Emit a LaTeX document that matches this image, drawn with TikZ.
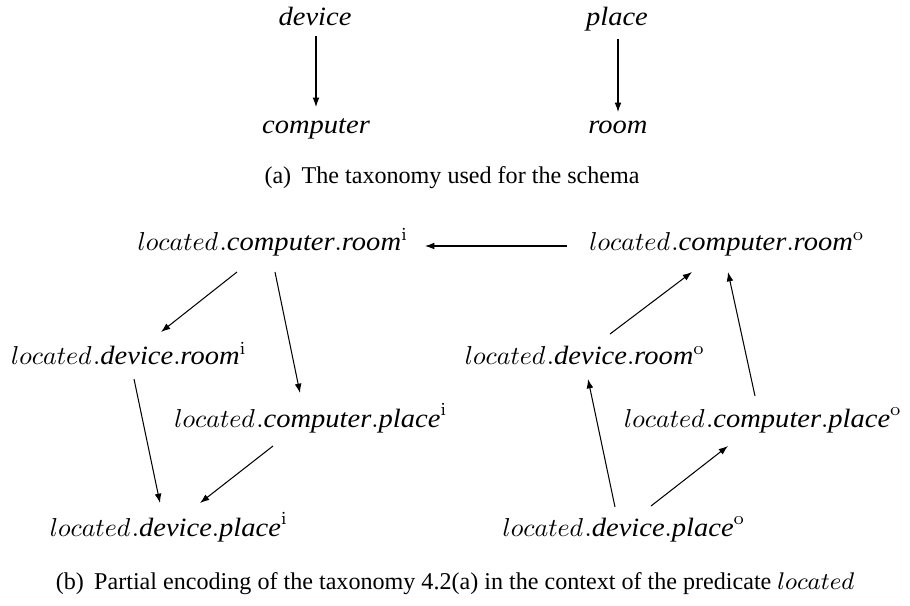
\documentclass[tikz,border=0pt]{standalone}
\usepackage{fix-cm}
\usepackage[no-math]{fontspec}
\setmainfont{Liberation Serif}
\newfontfamily\timesit[Scale=1.02,FakeStretch=1.08,UprightFont=* Italic]{Liberation Serif}
\newcommand{\tword}[1]{\mbox{\timesit #1}}
\usetikzlibrary{arrows.meta}
\begin{document}
\begin{tikzpicture}[x=0.386pt,y=-0.386pt,
  lbl/.style={inner sep=0pt,anchor=base},
  captxt/.style={inner sep=0pt,anchor=base,font=\fontsize{9.3}{11}\selectfont},
  arr/.style={-{Latex[length=3.6pt,width=2.6pt]},line width=0.4pt}]
\useasboundingbox (0,0) rectangle (910,605);
% (a) taxonomy
\node[lbl] (dev) at (315,25) {\tword{device}};
\node[lbl] (pla) at (617,25) {\tword{place}};
\node[lbl] (com) at (316,133) {\tword{computer}};
\node[lbl] (roo) at (618,133) {\tword{room}};
\node[captxt] (capa) at (452,183) {(a)\hspace{4pt}The taxonomy used for the schema};
\draw[arr] ([shift={(1,11)}]dev.base) -- ([shift={(0,-26)}]com.base);
\draw[arr] ([shift={(1,14)}]pla.base) -- ([shift={(0,-21)}]roo.base);
% (b) encoding
\node[lbl] (cri) at (273,250) {$located\mkern1mu.\tword{computer}.\tword{room}^{\mathrm{i}}$};
\node[lbl] (cro) at (727,250) {$located\mkern1mu.\tword{computer}.\tword{room}^{\mathrm{o}}$};
\node[lbl] (dri) at (129,364) {$located\mkern1mu.\tword{device}.\tword{room}^{\mathrm{i}}$};
\node[lbl] (dro) at (585,364) {$located\mkern1mu.\tword{device}.\tword{room}^{\mathrm{o}}$};
\node[lbl] (cpi) at (311,427) {$located\mkern1mu.\tword{computer}.\tword{place}^{\mathrm{i}}$};
\node[lbl] (cpo) at (763,427) {$located\mkern1mu.\tword{computer}.\tword{place}^{\mathrm{o}}$};
\node[lbl] (dpi) at (169,536) {$located\mkern1mu.\tword{device}.\tword{place}^{\mathrm{i}}$};
\node[lbl] (dpo) at (624,536) {$located\mkern1mu.\tword{device}.\tword{place}^{\mathrm{o}}$};
\node[captxt] (capb) at (455,589) {(b)\hspace{4pt}Partial encoding of the taxonomy 4.2(a) in the context of the predicate $located$};
\draw[arr] ([shift={(-36,22)}]cri.base) -- ([shift={(32,-32)}]dri.base);
\draw[arr] ([shift={(2,22)}]cri.base) -- ([shift={(-11,-34)}]cpi.base);
\draw[arr] ([shift={(5,15)}]dri.base) -- ([shift={(-9,-33)}]dpi.base);
\draw[arr] ([shift={(-38,19)}]cpi.base) -- ([shift={(31,-33)}]dpi.base);
\draw[arr] ([shift={(-160,-4)}]cro.base) -- ([shift={(152,-4)}]cri.base);
\draw[arr] ([shift={(25,-30)}]dro.base) -- ([shift={(-35,22)}]cro.base);
\draw[arr] ([shift={(-8,-31)}]cpo.base) -- ([shift={(1,22)}]cro.base);
\draw[arr] ([shift={(-9,-29)}]dpo.base) -- ([shift={(3,15)}]dro.base);
\draw[arr] ([shift={(27,-30)}]dpo.base) -- ([shift={(-35,19)}]cpo.base);
\end{tikzpicture}
\end{document}
